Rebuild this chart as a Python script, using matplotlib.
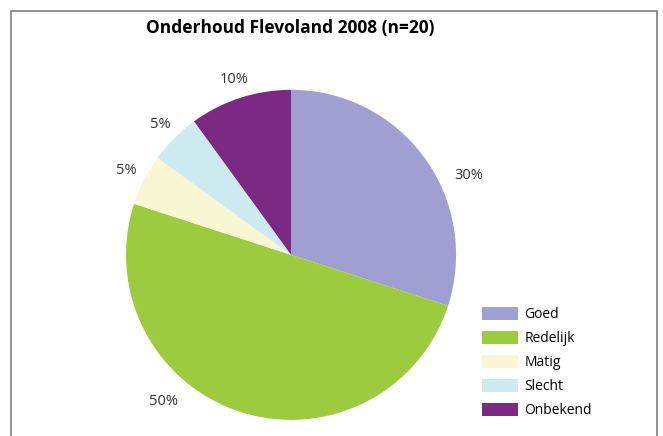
import numpy as np
import matplotlib
matplotlib.use("Agg")
import matplotlib.pyplot as plt
from matplotlib.patches import Rectangle, Patch

# data
categories = ["Goed", "Redelijk", "Matig", "Slecht", "Onbekend"]
values = [30, 50, 5, 5, 10]
colors = ["#A09FD1", "#9DCB3F", "#F9F7D3", "#CDEAF1", "#7B2982"]
title = "Onderhoud Flevoland 2008 (n=20)"

plt.rcParams["font.family"] = ["Open Sans", "DejaVu Sans"]

fig = plt.figure(figsize=(6.63, 4.36), dpi=100)
ax = fig.add_axes([0.190, 0.037, 0.498, 0.757])

wedges, texts = ax.pie(values, colors=colors, startangle=90, counterclock=False,
                       radius=1.0, wedgeprops=dict(linewidth=0))
ax.set_xlim(-1, 1)
ax.set_ylim(-1, 1)
ax.set_aspect("equal")
ax.axis("off")

# percentage labels outside the pie (Excel "best fit" style)
label_dir = [66, 221, None, None, None]  # degrees clockwise from top, None = middle of slice
cum = np.cumsum([0] + values)
for i, v in enumerate(values):
    ang = label_dir[i]
    dist = 1.18
    if ang is None:
        ang = (cum[i] + v / 2) / sum(values) * 360
        dist = 1.12
    a = np.radians(ang)
    ax.text(dist * np.sin(a), dist * np.cos(a), f"{v}%", ha="center", va="center",
            fontsize=10.5, color="#333333")

fig.text(0.438, 0.935, title, ha="center", va="center", fontsize=12.5,
         fontweight="bold", color="black")

# border
fig.add_artist(Rectangle((11 / 663, -0.1), (657 - 11) / 663, (436 - 11) / 436 + 0.1,
                         transform=fig.transFigure, fill=False,
                         edgecolor="#7f7f7f", linewidth=1.2))

handles = [Patch(facecolor=c, edgecolor="none") for c in colors]
fig.legend(handles, categories, loc="upper left", bbox_to_anchor=(482 / 663, (436 - 307) / 436),
           frameon=False, fontsize=10, handlelength=2.6, handleheight=1.08,
           labelspacing=0.62, handletextpad=0.45, borderpad=0, borderaxespad=0)

fig.savefig("out.png", dpi=100)
